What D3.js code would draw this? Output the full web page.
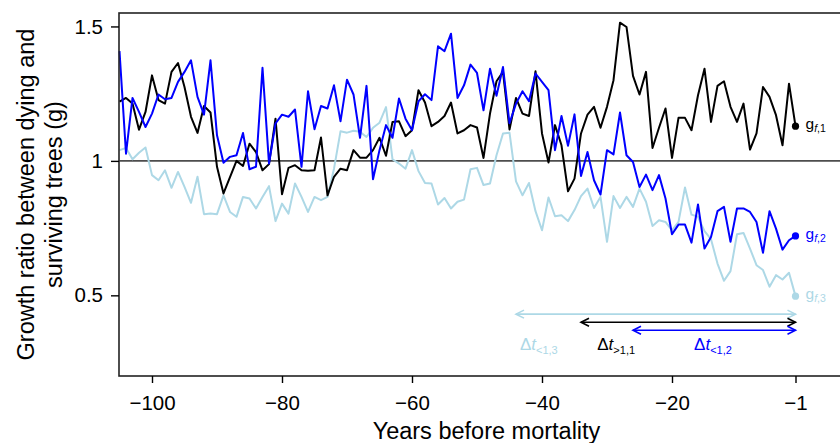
<!DOCTYPE html>
<html>
<head>
<meta charset="utf-8">
<script src="https://cdn.jsdelivr.net/npm/d3@7"></script>
<style>
  body { margin: 0; background: #fff; }
  svg { display: block; font-family: "Liberation Sans", Arial, Helvetica, sans-serif; }
</style>
</head>
<body>
<svg id="chart" width="840" height="443"></svg>
<script>
// first year of every series, one value per year up to -1
const firstYear = -105;

// growth ratio g
const gf1 = [
  1.22, 1.234, 1.213, 1.116, 1.182, 1.318, 1.226, 1.213, 1.331, 1.364,
  1.275, 1.164, 1.104, 1.204, 1.18, 0.978, 0.879, 0.94, 1.0, 0.981,
  1.064, 1.033, 0.965, 0.988, 1.157, 0.876, 0.974, 0.984, 0.965, 0.963,
  0.965, 1.087, 0.872, 0.941, 0.971, 0.965, 1.04, 1.012, 1.012, 1.04,
  1.086, 1.019, 1.145, 1.147, 1.092, 1.114, 1.263, 1.217, 1.129, 1.145,
  1.167, 1.217, 1.102, 1.114, 1.133, 1.124, 1.011, 1.176, 1.296, 1.331,
  1.117, 1.234, 1.176, 1.167, 1.333, 1.102, 0.994, 1.133, 1.058, 0.887,
  0.934, 1.102, 1.172, 1.201, 1.123, 1.201, 1.3, 1.514, 1.498, 1.316,
  1.247, 1.331, 1.048, 1.123, 1.195, 1.011, 1.16, 1.16, 1.114, 1.244,
  1.343, 1.145, 1.279, 1.296, 1.201, 1.145, 1.213, 1.042, 1.102, 1.275,
  1.238, 1.17, 1.058, 1.287, 1.129
];

const gf2 = [
  1.408, 1.027, 1.234, 1.182, 1.126, 1.176, 1.247, 1.229, 1.234, 1.294,
  1.331, 1.374, 1.238, 1.172, 1.374, 1.095, 0.993, 1.015, 1.021, 1.104,
  0.969, 0.978, 1.346, 0.99, 1.139, 1.172, 1.164, 1.191, 0.978, 1.259,
  1.118, 1.204, 1.195, 1.281, 1.147, 1.302, 1.247, 1.086, 1.279, 0.932,
  1.04, 1.133, 1.086, 1.232, 1.157, 1.114, 1.222, 1.248, 1.226, 1.426,
  1.408, 1.473, 1.234, 1.281, 1.358, 1.327, 1.188, 1.343, 1.242, 1.349,
  1.14, 1.213, 1.259, 1.222, 1.325, 1.294, 1.263, 1.04, 1.167, 1.056,
  1.173, 0.944, 1.033, 0.928, 0.875, 1.04, 1.024, 1.18, 1.021, 0.996,
  0.903, 0.949, 0.891, 0.947, 0.86, 0.727, 0.763, 0.763, 0.696, 0.838,
  0.674, 0.717, 0.813, 0.829, 0.699, 0.823, 0.823, 0.81, 0.773, 0.658,
  0.813, 0.748, 0.67, 0.705, 0.721
];

const gf3 = [
  1.04, 1.048, 1.006, 1.03, 1.05, 0.947, 0.928, 0.965, 0.9, 0.959,
  0.903, 0.844, 0.941, 0.802, 0.804, 0.802, 0.872, 0.81, 0.792, 0.866,
  0.86, 0.823, 0.866, 0.906, 0.776, 0.841, 0.804, 0.916, 0.866, 0.81,
  0.866, 0.854, 0.866, 0.971, 1.11, 1.105, 1.112, 1.108, 1.089, 1.123,
  1.142, 1.2, 1.006, 0.99, 0.971, 1.04, 0.962, 0.918, 0.916, 0.838,
  0.862, 0.823, 0.848, 0.856, 0.969, 0.974, 0.91, 0.916, 1.021, 1.102,
  1.105, 0.924, 0.872, 0.918, 0.813, 0.742, 0.864, 0.794, 0.798, 0.776,
  0.817, 0.869, 0.897, 0.825, 0.866, 0.699, 0.869, 0.825, 0.866, 0.829,
  0.897, 0.848, 0.758, 0.779, 0.773, 0.742, 0.773, 0.901, 0.8, 0.792,
  0.739, 0.709, 0.618, 0.554, 0.59, 0.727, 0.732, 0.674, 0.612, 0.594,
  0.532, 0.575, 0.559, 0.584, 0.497
];

const seriesNames = ["1", "2", "3"];
const seriesColors = ["#000000", "#0000ff", "#add8e6"];

// duration arrows (years before mortality) and their labels
const arrowStart = [-44, -34, -26];
const arrowEnd = [-1, -1, -1];
const arrowLevel = [0.43, 0.40, 0.37];
const arrowColors = ["#add8e6", "#000000", "#0000ff"];
const arrowSub = ["<1,3", ">1,1", "<1,2"];
const arrowLabelX = [-43.4, -31.5, -13.7];
const arrowLabelAnchor = ["start", "start", "middle"];

const xTicks = [-100, -80, -60, -40, -20, -1];
const yTicks = [0.5, 1, 1.5];
const yTickLabels = ["0.5", "1", "1.5"];

const width = 840;
const height = 443;
const margin = { top: 13, right: -14, bottom: 67, left: 119 };

const svg = d3.select("#chart");

const x = d3
  .scaleLinear()
  .domain([-105, 8])
  .range([margin.left + 0.5, width - margin.right]);

const y = d3
  .scaleLinear()
  .domain([0.2, 1.55])
  .range([height - margin.bottom, margin.top]);

// reference line at g = 1
svg
  .append("line")
  .attr("x1", x.range()[0])
  .attr("x2", x.range()[1])
  .attr("y1", y(1))
  .attr("y2", y(1))
  .attr("stroke", "#4d4d4d")
  .attr("stroke-width", 1.8);

const line = d3
  .line()
  .x((d, i) => x(firstYear + i))
  .y((d) => y(d));

// light blue below, black, blue on top
[gf3, gf1, gf2].forEach((values) => {
  const idx = values === gf1 ? 0 : values === gf2 ? 1 : 2;
  svg
    .append("path")
    .datum(values)
    .attr("fill", "none")
    .attr("stroke", seriesColors[idx])
    .attr("stroke-width", 2)
    .attr("stroke-linejoin", "round")
    .attr("d", line);
});

// end points and labels
[gf1, gf2, gf3].forEach((values, i) => {
  const last = values.length - 1;
  const cx = x(firstYear + last);
  const cy = y(values[last]);
  svg.append("circle").attr("cx", cx).attr("cy", cy).attr("r", 3.6).attr("fill", seriesColors[i]);

  const t = svg
    .append("text")
    .attr("x", cx + 10)
    .attr("y", cy + 3)
    .attr("fill", seriesColors[i])
    .style("font-size", "15.5px");
  t.append("tspan").text("g");
  t.append("tspan").attr("dy", 3).style("font-size", "10.5px").style("font-style", "italic").text("f");
  t.append("tspan").style("font-size", "10.5px").text("," + seriesNames[i]);
});

// arrows
const headLen = 8;
const headHalf = 4;
arrowStart.forEach((start, i) => {
  const x1 = x(start);
  const x2 = x(arrowEnd[i]);
  const yy = y(arrowLevel[i]);
  const g = svg.append("g").attr("stroke", arrowColors[i]).attr("fill", "none").attr("stroke-width", 1.6);
  g.append("line").attr("x1", x1).attr("x2", x2).attr("y1", yy).attr("y2", yy);
  g.append("path").attr("d", `M${x1 + headLen},${yy - headHalf}L${x1},${yy}L${x1 + headLen},${yy + headHalf}`);
  g.append("path").attr("d", `M${x2 - headLen},${yy - headHalf}L${x2},${yy}L${x2 - headLen},${yy + headHalf}`);

  const t = svg
    .append("text")
    .attr("x", x(arrowLabelX[i]))
    .attr("y", 350)
    .attr("text-anchor", arrowLabelAnchor[i])
    .attr("fill", arrowColors[i])
    .style("font-size", "17px");
  t.append("tspan").text("Δ");
  t.append("tspan").style("font-style", "italic").text("t");
  t.append("tspan").attr("dy", 4).style("font-size", "11px").text(arrowSub[i]);
});

// box
svg
  .append("rect")
  .attr("x", margin.left)
  .attr("y", margin.top)
  .attr("width", x.range()[1] - margin.left)
  .attr("height", height - margin.bottom - margin.top)
  .attr("fill", "none")
  .attr("stroke", "#222")
  .attr("stroke-width", 1.6);

// axes
const xAxis = (g) =>
  g
    .attr("transform", `translate(0,${height - margin.bottom})`)
    .call(d3.axisBottom(x).tickValues(xTicks).tickSize(7).tickFormat((d) => String(d).replace("-", "\u2212")))
    .call((g) => g.select(".domain").remove())
    .call((g) => g.selectAll(".tick line").attr("stroke", "#000").attr("stroke-width", 1.4))
    .call((g) => g.selectAll(".tick text").attr("y", 33.5).attr("dy", 0).attr("fill", "#000").style("font-size", "20.5px"));

const yAxis = (g) =>
  g
    .attr("transform", `translate(${margin.left},0)`)
    .call(d3.axisLeft(y).tickValues(yTicks).tickSize(8).tickPadding(8).tickFormat((d, i) => yTickLabels[i]))
    .call((g) => g.select(".domain").remove())
    .call((g) => g.selectAll(".tick line").attr("stroke", "#000").attr("stroke-width", 1.4))
    .call((g) => g.selectAll(".tick text").attr("fill", "#000").style("font-size", "20.5px"));

svg.append("g").attr("font-family", null).call(xAxis);
svg.append("g").attr("font-family", null).call(yAxis);

// axis titles
svg
  .append("text")
  .attr("x", (margin.left + x.range()[1]) / 2)
  .attr("y", 439)
  .attr("text-anchor", "middle")
  .style("font-size", "23.5px")
  .text("Years before mortality");

const cy = (margin.top + height - margin.bottom) / 2;
svg
  .append("text")
  .attr("transform", `translate(34,${cy}) rotate(-90)`)
  .attr("text-anchor", "middle")
  .style("font-size", "23.5px")
  .text("Growth ratio between dying and");
svg
  .append("text")
  .attr("transform", `translate(62,${cy}) rotate(-90)`)
  .attr("text-anchor", "middle")
  .style("font-size", "23.5px")
  .text("surviving trees (g)");
</script>
</body>
</html>
